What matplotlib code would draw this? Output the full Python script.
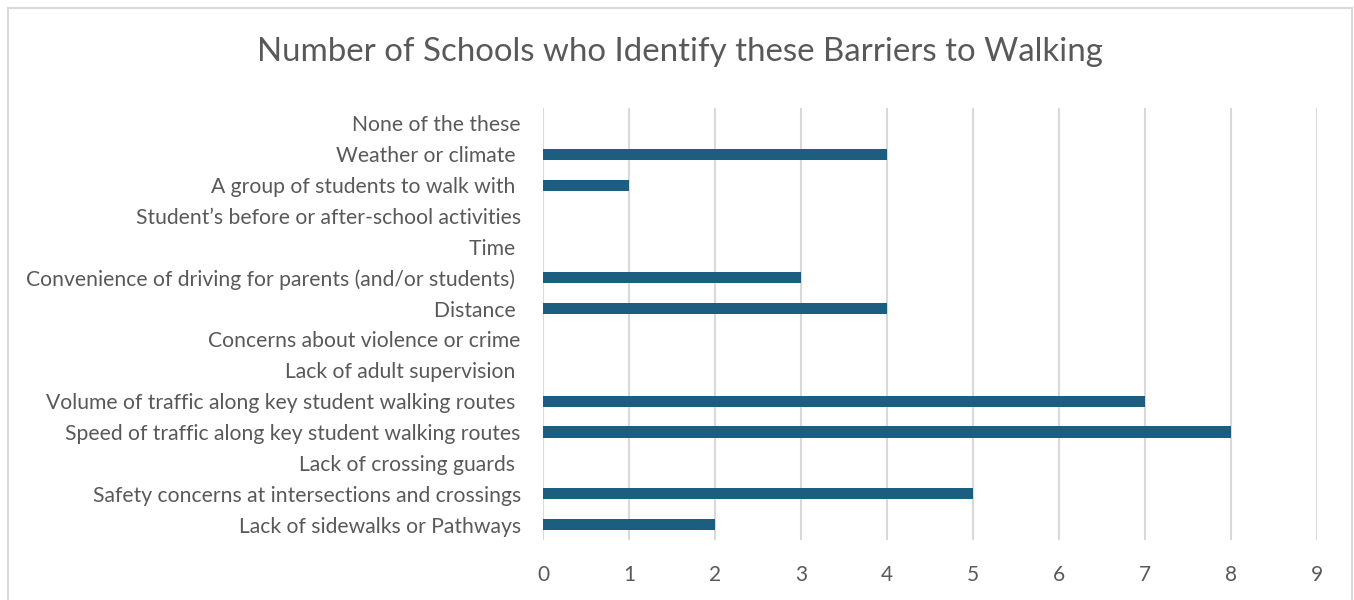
import numpy as np
import matplotlib
matplotlib.use("Agg")
import matplotlib.pyplot as plt
from matplotlib.patches import Rectangle

# data, bottom to top as drawn
barriers = [
    "Lack of sidewalks or Pathways",
    "Safety concerns at intersections and crossings",
    "Lack of crossing guards ",
    "Speed of traffic along key student walking routes",
    "Volume of traffic along key student walking routes ",
    "Lack of adult supervision ",
    "Concerns about violence or crime",
    "Distance ",
    "Convenience of driving for parents (and/or students) ",
    "Time ",
    "Student\u2019s before or after-school activities",
    "A group of students to walk with ",
    "Weather or climate ",
    "None of the these",
]
schools = [2, 5, 0, 8, 7, 0, 0, 4, 3, 0, 0, 1, 4, 0]
xticks = list(range(0, 10))

plt.rcParams['font.family'] = ['Lato', 'DejaVu Sans']
txt = '#595959'
barcol = '#1B5E80'

fig = plt.figure(figsize=(13.54, 6.0), dpi=100)
ax = fig.add_axes([543/1354, 1-540/600, (1317-543)/1354, (540-108)/600])

y = np.arange(len(barriers))
ax.barh(y, schools, height=0.36, color=barcol, zorder=3)
ax.set_xlim(0, 9)
ax.set_ylim(-0.5, len(barriers)-0.5)
ax.set_yticks(y)
ax.set_yticklabels(barriers, fontsize=15.2, color=txt)
ax.set_xticks(xticks)
ax.set_xticklabels([str(v) for v in xticks], fontsize=15, color=txt)
ax.tick_params(axis='y', length=0, pad=16)
ax.tick_params(axis='x', length=0, pad=18)
ax.grid(axis='x', color='#D9D9D9', linewidth=1.5, zorder=0)
for s in ax.spines.values():
    s.set_visible(False)

fig.text(680/1354, 1-52/600, "Number of Schools who Identify these Barriers to Walking",
         ha='center', va='center', fontsize=23.8, color=txt)

# outer chart border
fig.patches.append(Rectangle((8/1354, -0.01), (1352-8)/1354, 1-8/600+0.01,
                             transform=fig.transFigure, fill=False,
                             edgecolor='#D9D9D9', linewidth=1.5))

fig.savefig("out.png", dpi=100)
